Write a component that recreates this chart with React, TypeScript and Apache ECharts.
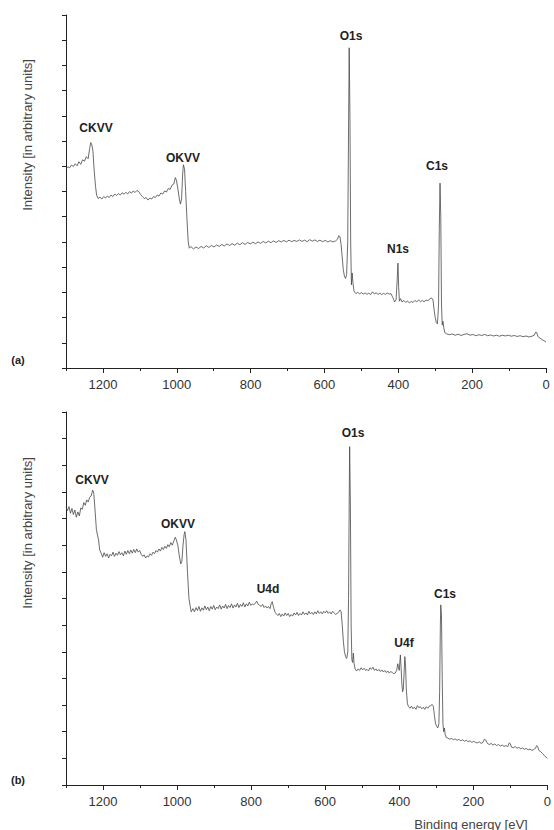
import React, { useEffect, useRef } from "react";
import * as echarts from "echarts";

// Binding energy [eV], intensity [arbitrary units]
const spectrumA: [number, number][] = [
  [1300, 7.9], [1295, 7.98], [1290, 7.94], [1285, 8.05], [1280, 7.99], [1275, 8.1], [1270, 8.02], [1265, 8.18],
  [1260, 8.08], [1255, 8.26], [1250, 8.2], [1245, 8.38], [1240, 8.3], [1236, 8.7], [1233, 8.94], [1230, 8.85],
  [1227, 8.6], [1224, 7.9], [1220, 7.2], [1217, 6.85], [1213, 6.72], [1208, 6.78], [1203, 6.7], [1198, 6.8],
  [1193, 6.74], [1188, 6.82], [1183, 6.76], [1178, 6.86], [1173, 6.8], [1168, 6.9], [1163, 6.84], [1158, 6.92],
  [1153, 6.86], [1148, 6.95], [1143, 6.89], [1138, 6.97], [1133, 6.9], [1128, 7.0], [1123, 6.93], [1118, 7.02],
  [1113, 6.96], [1108, 7.04], [1103, 7.0], [1098, 6.88], [1093, 6.8], [1088, 6.72], [1083, 6.76], [1078, 6.66],
  [1073, 6.74], [1068, 6.7], [1063, 6.8], [1058, 6.76], [1053, 6.86], [1048, 6.82], [1043, 6.94], [1038, 6.9],
  [1033, 7.02], [1028, 6.98], [1023, 7.12], [1018, 7.08], [1013, 7.25], [1008, 7.3], [1004, 7.55], [1001, 7.45],
  [997, 7.1], [993, 6.7], [990, 6.5], [987, 6.7], [984, 7.7], [982, 8.06], [979, 7.9], [976, 7.0],
  [972, 5.8], [969, 5.0], [966, 4.75], [962, 4.82], [955, 4.72], [948, 4.8], [941, 4.74], [934, 4.82],
  [927, 4.76], [920, 4.85], [913, 4.78], [906, 4.86], [899, 4.8], [892, 4.88], [885, 4.82], [878, 4.9],
  [871, 4.84], [864, 4.92], [857, 4.86], [850, 4.93], [843, 4.87], [836, 4.95], [829, 4.89], [822, 4.97],
  [815, 4.9], [808, 4.98], [801, 4.92], [794, 4.99], [787, 4.93], [780, 5.0], [773, 4.94], [766, 5.02],
  [759, 4.96], [752, 5.03], [745, 4.97], [738, 5.04], [731, 4.98], [724, 5.05], [717, 5.0], [710, 5.06],
  [703, 5.0], [696, 5.07], [689, 5.01], [682, 5.06], [675, 5.02], [668, 5.08], [661, 5.02], [654, 5.07],
  [647, 5.01], [640, 5.09], [633, 5.03], [626, 5.08], [619, 5.02], [612, 5.07], [605, 5.01], [598, 5.06],
  [591, 5.0], [584, 5.05], [577, 5.0], [570, 5.04], [565, 5.1], [561, 5.25], [558, 5.2], [555, 4.9],
  [552, 4.4], [549, 3.9], [546, 3.65], [543, 3.55], [540, 3.7], [537, 5.0], [535, 9.0], [533, 12.7],
  [531, 10.0], [529, 5.0], [527, 3.3], [525, 3.77], [523, 3.4], [520, 3.05], [515, 2.95], [510, 3.0],
  [505, 2.94], [500, 2.99], [495, 2.93], [490, 2.98], [485, 2.92], [480, 2.97], [475, 2.91], [470, 3.02],
  [465, 2.94], [460, 2.98], [455, 2.92], [450, 2.97], [445, 2.91], [440, 2.96], [435, 2.92], [430, 2.98],
  [425, 2.93], [420, 2.95], [415, 2.8], [410, 2.62], [406, 2.7], [403, 3.5], [401, 4.16], [399, 3.2],
  [397, 2.65], [394, 2.75], [390, 2.62], [385, 2.68], [380, 2.6], [375, 2.66], [370, 2.58], [365, 2.64],
  [360, 2.6], [355, 2.68], [350, 2.62], [345, 2.7], [340, 2.63], [335, 2.68], [330, 2.62], [325, 2.7],
  [320, 2.66], [315, 2.74], [310, 2.78], [306, 2.7], [303, 2.3], [300, 2.0], [297, 1.8], [294, 1.75],
  [291, 2.5], [289, 5.5], [287, 7.33], [285, 6.0], [283, 2.5], [281, 1.7], [279, 1.85], [277, 1.6],
  [274, 1.4], [270, 1.36], [262, 1.32], [254, 1.35], [246, 1.3], [238, 1.34], [230, 1.29], [222, 1.33],
  [214, 1.36], [206, 1.3], [198, 1.33], [190, 1.28], [182, 1.32], [174, 1.29], [166, 1.33], [158, 1.28],
  [150, 1.31], [142, 1.27], [134, 1.3], [126, 1.26], [118, 1.3], [110, 1.27], [102, 1.3], [94, 1.26],
  [86, 1.29], [78, 1.25], [70, 1.28], [62, 1.24], [54, 1.27], [46, 1.23], [38, 1.26], [32, 1.3],
  [28, 1.42], [25, 1.4], [22, 1.25], [16, 1.18], [10, 1.12], [5, 1.08], [0, 1.03],
];

// panel (b)
const spectrumB: [number, number][] = [
  [1300, 10.44], [1296, 10.3], [1292, 10.45], [1288, 10.2], [1284, 10.38], [1280, 10.15], [1276, 10.32], [1272, 10.05],
  [1268, 10.25], [1264, 10.1], [1260, 10.4], [1256, 10.35], [1252, 10.6], [1248, 10.5], [1244, 10.7], [1240, 10.62],
  [1236, 10.8], [1232, 10.85], [1228, 11.07], [1225, 10.95], [1222, 10.4], [1218, 9.6], [1215, 9.38], [1212, 9.2],
  [1209, 8.82], [1205, 8.7], [1201, 8.55], [1197, 8.72], [1193, 8.58], [1189, 8.68], [1185, 8.52], [1181, 8.66],
  [1177, 8.6], [1173, 8.74], [1169, 8.58], [1165, 8.7], [1161, 8.62], [1157, 8.76], [1153, 8.64], [1149, 8.72],
  [1145, 8.6], [1141, 8.78], [1137, 8.66], [1133, 8.8], [1129, 8.68], [1125, 8.82], [1121, 8.7], [1117, 8.84],
  [1113, 8.72], [1109, 8.86], [1105, 8.74], [1101, 8.8], [1097, 8.66], [1093, 8.58], [1089, 8.64], [1085, 8.52],
  [1081, 8.6], [1077, 8.56], [1073, 8.68], [1069, 8.62], [1065, 8.74], [1061, 8.68], [1057, 8.8], [1053, 8.74],
  [1049, 8.86], [1045, 8.78], [1041, 8.92], [1037, 8.84], [1033, 8.96], [1029, 8.88], [1025, 9.02], [1021, 8.94],
  [1017, 9.1], [1013, 9.0], [1009, 9.15], [1005, 9.3], [1002, 9.2], [998, 9.0], [994, 8.6], [990, 8.3],
  [987, 8.4], [984, 9.0], [981, 9.4], [979, 9.51], [976, 9.2], [972, 8.0], [968, 7.0], [965, 6.75],
  [962, 6.5], [957, 6.62], [953, 6.5], [949, 6.66], [945, 6.55], [941, 6.7], [937, 6.52], [933, 6.65],
  [929, 6.56], [925, 6.72], [921, 6.58], [917, 6.68], [913, 6.54], [909, 6.7], [905, 6.6], [901, 6.74],
  [897, 6.58], [893, 6.68], [889, 6.62], [885, 6.76], [881, 6.6], [877, 6.72], [873, 6.64], [869, 6.78],
  [865, 6.62], [861, 6.74], [857, 6.66], [853, 6.8], [849, 6.64], [845, 6.76], [841, 6.68], [837, 6.82],
  [833, 6.66], [829, 6.78], [825, 6.7], [821, 6.84], [817, 6.68], [813, 6.8], [809, 6.72], [805, 6.86],
  [801, 6.74], [797, 6.8], [793, 6.76], [789, 6.82], [785, 6.9], [781, 6.78], [777, 6.74], [773, 6.7],
  [769, 6.78], [765, 6.66], [761, 6.72], [757, 6.64], [753, 6.7], [749, 6.62], [746, 6.8], [743, 6.88],
  [740, 6.7], [736, 6.5], [732, 6.42], [728, 6.36], [724, 6.44], [720, 6.32], [716, 6.42], [712, 6.34],
  [708, 6.46], [704, 6.36], [700, 6.44], [696, 6.32], [692, 6.4], [688, 6.34], [684, 6.46], [680, 6.38],
  [676, 6.48], [672, 6.36], [668, 6.44], [664, 6.38], [660, 6.5], [656, 6.4], [652, 6.46], [648, 6.38],
  [644, 6.52], [640, 6.42], [636, 6.48], [632, 6.4], [628, 6.5], [624, 6.42], [620, 6.54], [616, 6.44],
  [612, 6.5], [608, 6.42], [604, 6.52], [600, 6.46], [596, 6.54], [592, 6.44], [588, 6.5], [584, 6.42],
  [580, 6.52], [576, 6.46], [572, 6.4], [568, 6.44], [564, 6.48], [560, 6.57], [557, 6.5], [554, 6.0],
  [551, 5.4], [548, 5.0], [545, 4.82], [542, 4.75], [539, 5.0], [537, 7.0], [535, 11.0], [534, 12.7],
  [532, 10.5], [530, 6.0], [528, 4.7], [526, 4.6], [524, 4.95], [522, 4.55], [519, 4.35], [515, 4.28],
  [511, 4.36], [507, 4.3], [503, 4.4], [499, 4.32], [495, 4.38], [491, 4.3], [487, 4.34], [483, 4.28],
  [479, 4.4], [475, 4.34], [471, 4.42], [467, 4.3], [463, 4.36], [459, 4.28], [455, 4.34], [451, 4.26],
  [447, 4.32], [443, 4.24], [439, 4.3], [435, 4.22], [431, 4.28], [427, 4.2], [423, 4.26], [419, 4.22],
  [415, 4.18], [411, 4.2], [407, 4.3], [404, 4.55], [402, 4.4], [400, 4.3], [398, 4.7], [397, 4.88],
  [395, 4.4], [393, 3.8], [391, 3.5], [389, 3.6], [387, 4.2], [385, 4.82], [383, 4.5], [381, 3.6],
  [378, 3.05], [375, 2.95], [371, 2.88], [367, 2.96], [363, 2.86], [359, 2.92], [355, 2.84], [351, 2.98],
  [347, 2.9], [343, 2.94], [339, 2.86], [335, 2.92], [331, 2.84], [327, 2.94], [323, 2.88], [319, 2.96],
  [315, 2.98], [311, 3.02], [308, 2.95], [305, 2.6], [302, 2.3], [299, 2.2], [296, 2.14], [293, 2.3],
  [291, 3.5], [289, 6.0], [288, 6.76], [286, 6.4], [284, 4.0], [282, 2.3], [280, 2.0], [278, 2.14],
  [276, 1.9], [273, 1.78], [269, 1.76], [264, 1.72], [259, 1.75], [254, 1.7], [249, 1.73], [244, 1.68],
  [239, 1.71], [234, 1.66], [229, 1.7], [224, 1.64], [219, 1.68], [214, 1.62], [209, 1.66], [204, 1.6],
  [199, 1.64], [194, 1.6], [189, 1.58], [184, 1.62], [179, 1.56], [174, 1.6], [170, 1.72], [166, 1.68],
  [162, 1.56], [157, 1.52], [152, 1.56], [147, 1.5], [142, 1.54], [137, 1.48], [132, 1.52], [127, 1.46],
  [122, 1.5], [117, 1.45], [112, 1.48], [107, 1.44], [103, 1.58], [100, 1.55], [97, 1.42], [92, 1.4],
  [87, 1.44], [82, 1.38], [77, 1.41], [72, 1.36], [67, 1.39], [62, 1.34], [57, 1.37], [52, 1.32],
  [47, 1.35], [42, 1.3], [37, 1.33], [32, 1.38], [29, 1.48], [26, 1.44], [23, 1.3], [18, 1.25],
  [13, 1.18], [8, 1.1], [4, 1.05], [0, 1.0],
];

const peakLabelsA: [string, number, number][] = [
  ["CKVV", 96, 128], ["OKVV", 183, 158], ["O1s", 351, 36], ["N1s", 398, 249], ["C1s", 437, 166],
];
const peakLabelsB: [string, number, number][] = [
  ["CKVV", 92, 480], ["OKVV", 178, 524], ["U4d", 268, 589], ["O1s", 353, 433], ["U4f", 404, 643], ["C1s", 445, 594],
];

const X_MIN = 0;
const X_MAX = 1300;
const Y_MIN = 0;
const Y_MAX = 14;
const FONT = "'Liberation Sans', Arial, Helvetica, sans-serif";
const AXIS_COLOR = "#222";
const LINE_COLOR = "#474747";

export default function App() {
  const ref = useRef<HTMLDivElement>(null);
  useEffect(() => {
    if (!ref.current) return;
    const chart = echarts.init(ref.current, undefined, { renderer: "svg" });

    const grids = [
      { left: 66, top: 15, width: 480, height: 353 },
      { left: 66, top: 412, width: 485, height: 373 },
    ];

    const xAxes: any[] = [];
    const yAxes: any[] = [];
    grids.forEach((_, gi) => {
      // minor ticks (every 100)
      xAxes.push({
        type: "value", gridIndex: gi, min: X_MIN, max: X_MAX, interval: 100, inverse: true,
        position: "bottom",
        axisLine: { show: true, onZero: false, lineStyle: { color: AXIS_COLOR, width: 1 } },
        axisTick: { show: true, length: 3, lineStyle: { color: AXIS_COLOR, width: 1 } },
        axisLabel: { show: false },
        splitLine: { show: false },
      });
      // major ticks + labels (every 200)
      xAxes.push({
        type: "value", gridIndex: gi, min: X_MIN, max: X_MAX, interval: 200, inverse: true,
        position: "bottom", offset: 0,
        axisLine: { show: false, onZero: false },
        axisTick: { show: true, length: 5, lineStyle: { color: AXIS_COLOR, width: 1 } },
        axisLabel: {
          show: true, margin: 10, fontSize: 13, color: "#333", fontFamily: FONT,
          showMaxLabel: false,
          formatter: (v: number) => (v % 200 === 0 ? String(v) : ""),
        },
        splitLine: { show: false },
      });
      yAxes.push({
        type: "value", gridIndex: gi, min: Y_MIN, max: Y_MAX, interval: 1,
        position: "left",
        axisLine: { show: true, onZero: false, lineStyle: { color: AXIS_COLOR, width: 1 } },
        axisTick: { show: true, length: 4, lineStyle: { color: AXIS_COLOR, width: 1 } },
        axisLabel: { show: false },
        splitLine: { show: false },
      });
    });

    const mkText = (text: string, x: number, y: number, extra: any = {}) => ({
      type: "text", x, y, silent: true,
      style: {
        text, fill: "#222", font: `bold 12px ${FONT}`,
        align: "center", verticalAlign: "middle", textAlign: "center", textVerticalAlign: "middle",
        ...extra,
      },
    });

    const graphic: any[] = [
      ...peakLabelsA.map(([t, x, y]) => mkText(t, x, y)),
      ...peakLabelsB.map(([t, x, y]) => mkText(t, x, y)),
      mkText("(a)", 18, 360, { font: `bold 11px ${FONT}` }),
      mkText("(b)", 18, 780, { font: `bold 11px ${FONT}` }),
      { ...mkText("Intensity [in arbitrary units]", 0, 0, { font: `13px ${FONT}`, fill: "#444" }), x: 27, y: 135, rotation: Math.PI / 2 },
      { ...mkText("Intensity [in arbitrary units]", 0, 0, { font: `13px ${FONT}`, fill: "#444" }), x: 27, y: 533, rotation: Math.PI / 2 },
      mkText("Binding energy [eV]", 471, 824, { font: `13px ${FONT}`, fill: "#444" }),
    ];

    chart.setOption({
      animation: false,
      backgroundColor: "#fff",
      grid: grids,
      xAxis: xAxes,
      yAxis: yAxes,
      series: [
        {
          type: "line", xAxisIndex: 0, yAxisIndex: 0, data: spectrumA, showSymbol: false, symbol: "none",
          lineStyle: { color: LINE_COLOR, width: 0.8 }, silent: true,
        },
        {
          type: "line", xAxisIndex: 2, yAxisIndex: 1, data: spectrumB, showSymbol: false, symbol: "none",
          lineStyle: { color: LINE_COLOR, width: 0.8 }, silent: true,
        },
      ],
      graphic,
    });
    return () => chart.dispose();
  }, []);

  return (
    <div
      ref={ref}
      style={{ position: "fixed", left: 0, top: 0, width: 554, height: 830, background: "#fff" }}
    />
  );
}
